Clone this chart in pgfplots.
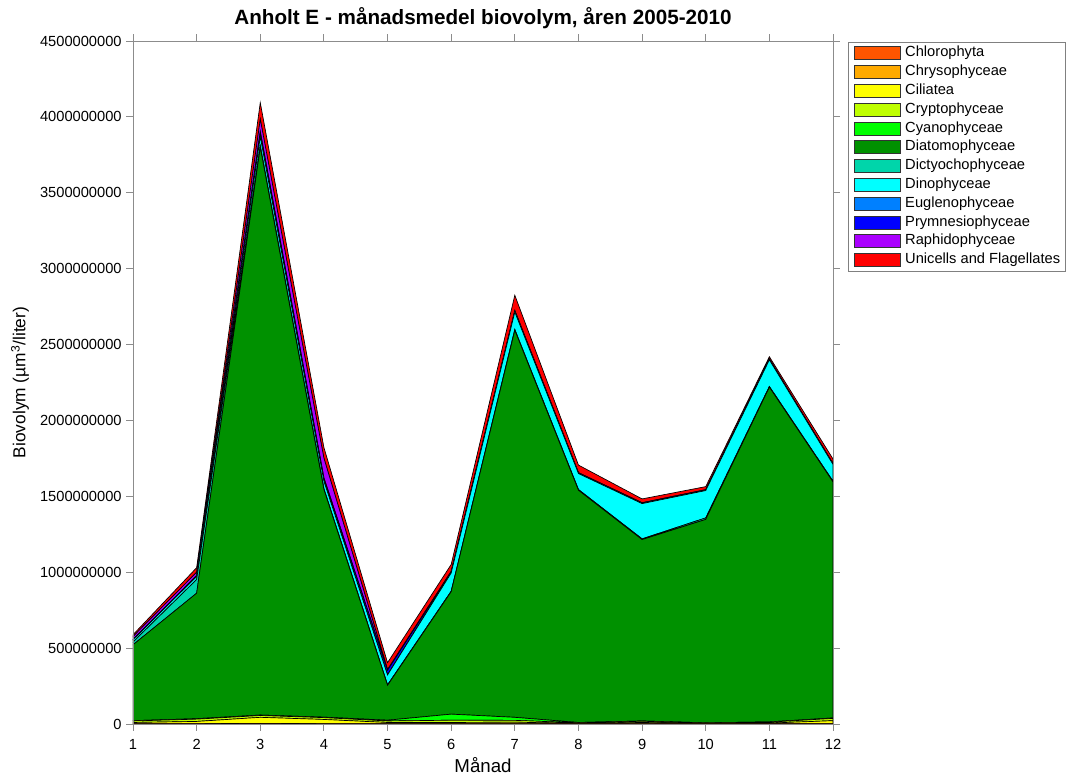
\documentclass[border=0pt]{standalone}
\usepackage{fontspec}
\setmainfont{Liberation Sans}
\usepackage{pgfplots}
\usepackage{pgfplotstable}
\pgfplotsset{compat=1.18}
\definecolor{cChl}{RGB}{255,85,0}
\definecolor{cChr}{RGB}{255,170,0}
\definecolor{cCil}{RGB}{255,255,0}
\definecolor{cCry}{RGB}{191,255,0}
\definecolor{cCya}{RGB}{0,255,0}
\definecolor{cDia}{RGB}{0,145,0}
\definecolor{cDic}{RGB}{0,213,170}
\definecolor{cDin}{RGB}{0,255,255}
\definecolor{cEug}{RGB}{0,128,255}
\definecolor{cPry}{RGB}{0,0,255}
\definecolor{cRap}{RGB}{170,0,255}
\definecolor{cUni}{RGB}{255,0,0}
\pgfplotstableread{
x  chl     chr     cil      cry      cya      dia         dic       din       eug     pry      rap       uni
1  1000000 1000000 8000000  10000000 2000000  500000000   18000000  15000000  1000000 2000000  18000000  12000000
2  1000000 1000000 15000000 15000000 3000000  827000000   90000000  20000000  1000000 5000000  22000000  30000000
3  2000000 2000000 40000000 12000000 3000000  3740000000  10000000  60000000  5000000 30000000 80000000  110000000
4  1000000 1000000 28000000 12000000 3000000  1500000000  5000000   50000000  2000000 20000000 130000000 70000000
5  1000000 1000000 8000000  10000000 5000000  230000000   3000000   65000000  1000000 30000000 5000000   45000000
6  1000000 1000000 8000000  15000000 40000000 807000000   3000000   120000000 1000000 5000000  5000000   45000000
7  1000000 1000000 10000000 12000000 20000000 2550000000  5000000   115000000 1000000 5000000  5000000   100000000
8  1000000 1000000 2000000  4000000  2000000  1530000000  5000000   105000000 1000000 3000000  2000000   50000000
9  1000000 1000000 8000000  8000000  2000000  1195000000  5000000   232000000 1000000 3000000  2000000   25000000
10 1000000 1000000 2000000  3000000  1000000  1340000000  10000000  180000000 1000000 3000000  2000000   20000000
11 1000000 1000000 4000000  6000000  2000000  2205000000  5000000   175000000 1000000 3000000  2000000   15000000
12 1000000 1000000 20000000 15000000 3000000  1555000000  5000000   110000000 1000000 3000000  2000000   30000000
}\data
\begin{document}
\begin{tikzpicture}
\useasboundingbox (-99.75pt,-39pt) rectangle (701.25pt,543pt);
\begin{axis}[
  at={(0pt,0pt)}, anchor=south west,
  scale only axis, width=525pt, height=512.25pt,
  xmin=1, xmax=12, ymin=0, ymax=4500000000,
  xtick={1,2,3,4,5,6,7,8,9,10,11,12},
  ytick={0,500000000,1000000000,1500000000,2000000000,2500000000,3000000000,3500000000,4000000000,4500000000},
  yticklabels={0,500000000,1000000000,1500000000,2000000000,2500000000,3000000000,3500000000,4000000000,4500000000},
  scaled y ticks=false,
  /pgf/number format/assume math mode=true,
  tick align=outside, major tick length=5pt,
  axis line style={draw=gray!90, line width=0.7pt},
  every tick/.style={draw=gray!90, line width=0.7pt},
  tick label style={font=\fontsize{11}{13}\selectfont, black},
  xticklabel style={yshift=-3pt},
  title={Anholt E - månadsmedel biovolym, åren 2005-2010},
  title style={font=\bfseries\fontsize{15.5}{18}\selectfont, at={(axis description cs:0.5,1.022)}, anchor=center},
  xlabel={Månad},
  xlabel style={font=\fontsize{14}{16}\selectfont, at={(axis description cs:0.5,-0.060)}, anchor=center},
  ylabel={Biovolym (µm\textsuperscript{3}/liter)},
  ylabel style={font=\fontsize{13}{16}\selectfont, at={(axis description cs:-0.1614,0.5)}, anchor=center},
  stack plots=y, area style,
  legend image code/.code={\draw[#1,draw=black!80] (0pt,-4.875pt) rectangle (34.5pt,4.875pt);},
  legend cell align=left,
  legend style={at={(1.0214,0.9985)}, anchor=north west, draw=gray, fill=white,
    font=\fontsize{11}{13}\selectfont, inner xsep=4pt, inner ysep=3pt, row sep=3.6pt,
    nodes={inner sep=0pt, text height=8pt, text depth=2.5pt},
    /tikz/every odd column/.append style={column sep=3.75pt}},
]
\addplot[fill=cChl, draw=black, line width=0.5pt] table[x=x,y=chl]{\data} \closedcycle;
\addplot[fill=cChr, draw=black, line width=0.5pt] table[x=x,y=chr]{\data} \closedcycle;
\addplot[fill=cCil, draw=black, line width=0.5pt] table[x=x,y=cil]{\data} \closedcycle;
\addplot[fill=cCry, draw=black, line width=0.5pt] table[x=x,y=cry]{\data} \closedcycle;
\addplot[fill=cCya, draw=black, line width=0.5pt] table[x=x,y=cya]{\data} \closedcycle;
\addplot[fill=cDia, draw=black, line width=0.5pt] table[x=x,y=dia]{\data} \closedcycle;
\addplot[fill=cDic, draw=black, line width=0.5pt] table[x=x,y=dic]{\data} \closedcycle;
\addplot[fill=cDin, draw=black, line width=0.5pt] table[x=x,y=din]{\data} \closedcycle;
\addplot[fill=cEug, draw=black, line width=0.5pt] table[x=x,y=eug]{\data} \closedcycle;
\addplot[fill=cPry, draw=black, line width=0.5pt] table[x=x,y=pry]{\data} \closedcycle;
\addplot[fill=cRap, draw=black, line width=0.5pt] table[x=x,y=rap]{\data} \closedcycle;
\addplot[fill=cUni, draw=black, line width=0.5pt] table[x=x,y=uni]{\data} \closedcycle;
\legend{Chlorophyta,Chrysophyceae,Ciliatea,Cryptophyceae,Cyanophyceae,Diatomophyceae,Dictyochophyceae,Dinophyceae,Euglenophyceae,Prymnesiophyceae,Raphidophyceae,Unicells and Flagellates}
\end{axis}
\end{tikzpicture}
\end{document}
